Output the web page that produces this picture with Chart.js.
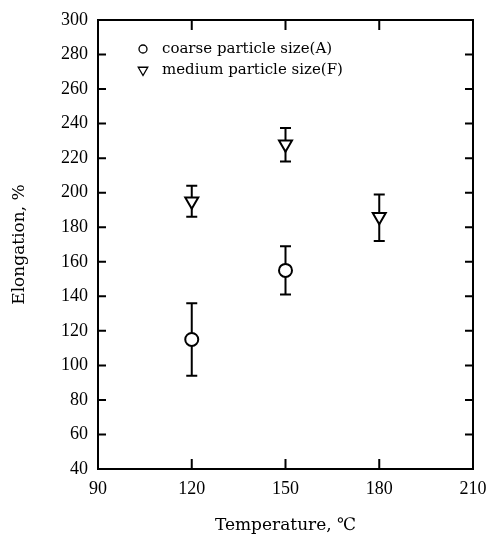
<!DOCTYPE html>
<html>
<head>
<meta charset="utf-8">
<script src="https://cdn.jsdelivr.net/npm/chart.js@4.4.1/dist/chart.umd.min.js"></script>
<style>
  html, body { margin: 0; padding: 0; background: #fff; }
  #wrap { width: 489px; height: 539px; }
</style>
</head>
<body>
<div id="wrap"><canvas id="c" width="489" height="539"></canvas></div>
<script>
// ---- data ----
const coarseLabel = 'coarse particle size(A)';
const coarseTemp = [120, 150];
const coarseElong = [115, 155];
const coarseLow = [94, 141];
const coarseHigh = [136, 169];

const mediumLabel = 'medium particle size(F)';
const mediumTemp = [120, 150, 180];
const mediumElong = [195, 228, 186];
const mediumLow = [186, 218, 172];
const mediumHigh = [204, 237.5, 199];

const xTickValues = [90, 120, 150, 180, 210];
const yTickValues = [40, 60, 80, 100, 120, 140, 160, 180, 200, 220, 240, 260, 280, 300];
const xTitle = 'Temperature, \u2103';
const yTitle = 'Elongation, %';

const SERIF = '"DejaVu Serif", "Liberation Serif", serif';
const TICKFONT = '"Liberation Serif", "DejaVu Serif", serif';

const errorBars = {
  id: 'errorBars',
  beforeDatasetsDraw(chart) {
    const ctx = chart.ctx;
    const xs = chart.scales.x, ys = chart.scales.y;
    ctx.save();
    ctx.strokeStyle = '#000';
    ctx.lineWidth = 2;
    chart.data.datasets.forEach(ds => {
      ds.data.forEach((p, i) => {
        const x = xs.getPixelForValue(p.x);
        const yl = ys.getPixelForValue(ds.low[i]);
        const yh = ys.getPixelForValue(ds.high[i]);
        ctx.beginPath();
        ctx.moveTo(x, yl); ctx.lineTo(x, yh);
        ctx.moveTo(x - 5.5, yl); ctx.lineTo(x + 5.5, yl);
        ctx.moveTo(x - 5.5, yh); ctx.lineTo(x + 5.5, yh);
        ctx.stroke();
      });
    });
    ctx.restore();
  }
};

const frameTicks = {
  id: 'frameTicks',
  afterDraw(chart) {
    const ctx = chart.ctx;
    const a = chart.chartArea;
    const xs = chart.scales.x, ys = chart.scales.y;
    ctx.save();
    ctx.strokeStyle = '#000';
    ctx.lineWidth = 2;
    ctx.strokeRect(a.left, a.top, a.right - a.left, a.bottom - a.top);
    ctx.beginPath();
    ys.ticks.forEach(t => {
      const y = ys.getPixelForValue(t.value);
      ctx.moveTo(a.left, y); ctx.lineTo(a.left + 8, y);
      ctx.moveTo(a.right, y); ctx.lineTo(a.right - 8, y);
    });
    xs.ticks.forEach(t => {
      const x = xs.getPixelForValue(t.value);
      ctx.moveTo(x, a.bottom); ctx.lineTo(x, a.bottom - 10);
      ctx.moveTo(x, a.top); ctx.lineTo(x, a.top + 10);
    });
    ctx.stroke();
    ctx.restore();
  }
};

const innerLegend = {
  id: 'innerLegend',
  afterDraw(chart) {
    const ctx = chart.ctx;
    const a = chart.chartArea;
    ctx.save();
    ctx.font = '15px ' + SERIF;
    ctx.fillStyle = '#000';
    ctx.textBaseline = 'middle';
    ctx.textAlign = 'left';
    chart.data.datasets.forEach((ds, i) => {
      const mx = a.left + 45;
      const my = a.top + 29 + i * 21;
      ctx.strokeStyle = '#000';
      ctx.fillStyle = '#fff';
      ctx.lineWidth = 1.3;
      Chart.helpers.drawPoint(ctx, {
        pointStyle: ds.pointStyle, rotation: ds.rotation || 0,
        radius: ds.pointStyle === 'circle' ? 4 : 5.5, borderWidth: 1.3
      }, mx, my);
      ctx.fillStyle = '#000';
      ctx.fillText(ds.label, mx + 19, my);
    });
    ctx.restore();
  }
};

new Chart(document.getElementById('c'), {
  type: 'scatter',
  data: {
    datasets: [
      {
        label: coarseLabel,
        data: coarseTemp.map((t, i) => ({ x: t, y: coarseElong[i] })),
        low: coarseLow, high: coarseHigh,
        pointStyle: 'circle', pointRadius: 6.5, borderWidth: 2,
        borderColor: '#000', backgroundColor: '#fff'
      },
      {
        label: mediumLabel,
        data: mediumTemp.map((t, i) => ({ x: t, y: mediumElong[i] })),
        low: mediumLow, high: mediumHigh,
        pointStyle: 'triangle', rotation: 180, pointRadius: 7.5, borderWidth: 2,
        borderColor: '#000', backgroundColor: '#fff'
      }
    ]
  },
  options: {
    responsive: false,
    animation: false,
    devicePixelRatio: 1,
    layout: { padding: { left: 0, right: 16, top: 20, bottom: 0 } },
    plugins: { legend: { display: false }, tooltip: { enabled: false } },
    elements: { point: { hoverRadius: 7 } },
    scales: {
      x: {
        type: 'linear', min: 90, max: 210,
        afterBuildTicks: s => { s.ticks = xTickValues.map(v => ({ value: v })); },
        afterFit: s => { s.height = 70; s.paddingLeft = 0; s.paddingRight = 0; },
        grid: { display: false, drawTicks: false },
        border: { display: false },
        ticks: { color: '#000', font: { family: TICKFONT, size: 18 }, padding: 9, maxRotation: 0 },
        title: { display: true, text: xTitle, color: '#000', font: { family: SERIF, size: 17 }, padding: { top: 0, bottom: 3 } }
      },
      y: {
        type: 'linear', min: 40, max: 300,
        afterBuildTicks: s => { s.ticks = yTickValues.map(v => ({ value: v })); },
        afterFit: s => { s.width = 98; s.paddingTop = 0; s.paddingBottom = 0; },
        grid: { display: false, drawTicks: false },
        border: { display: false },
        ticks: { color: '#000', font: { family: TICKFONT, size: 18 }, padding: 10 },
        title: { display: true, text: yTitle, color: '#000', font: { family: SERIF, size: 17 }, padding: { top: 9, bottom: 0 } }
      }
    }
  },
  plugins: [errorBars, frameTicks, innerLegend]
});
</script>
</body>
</html>
